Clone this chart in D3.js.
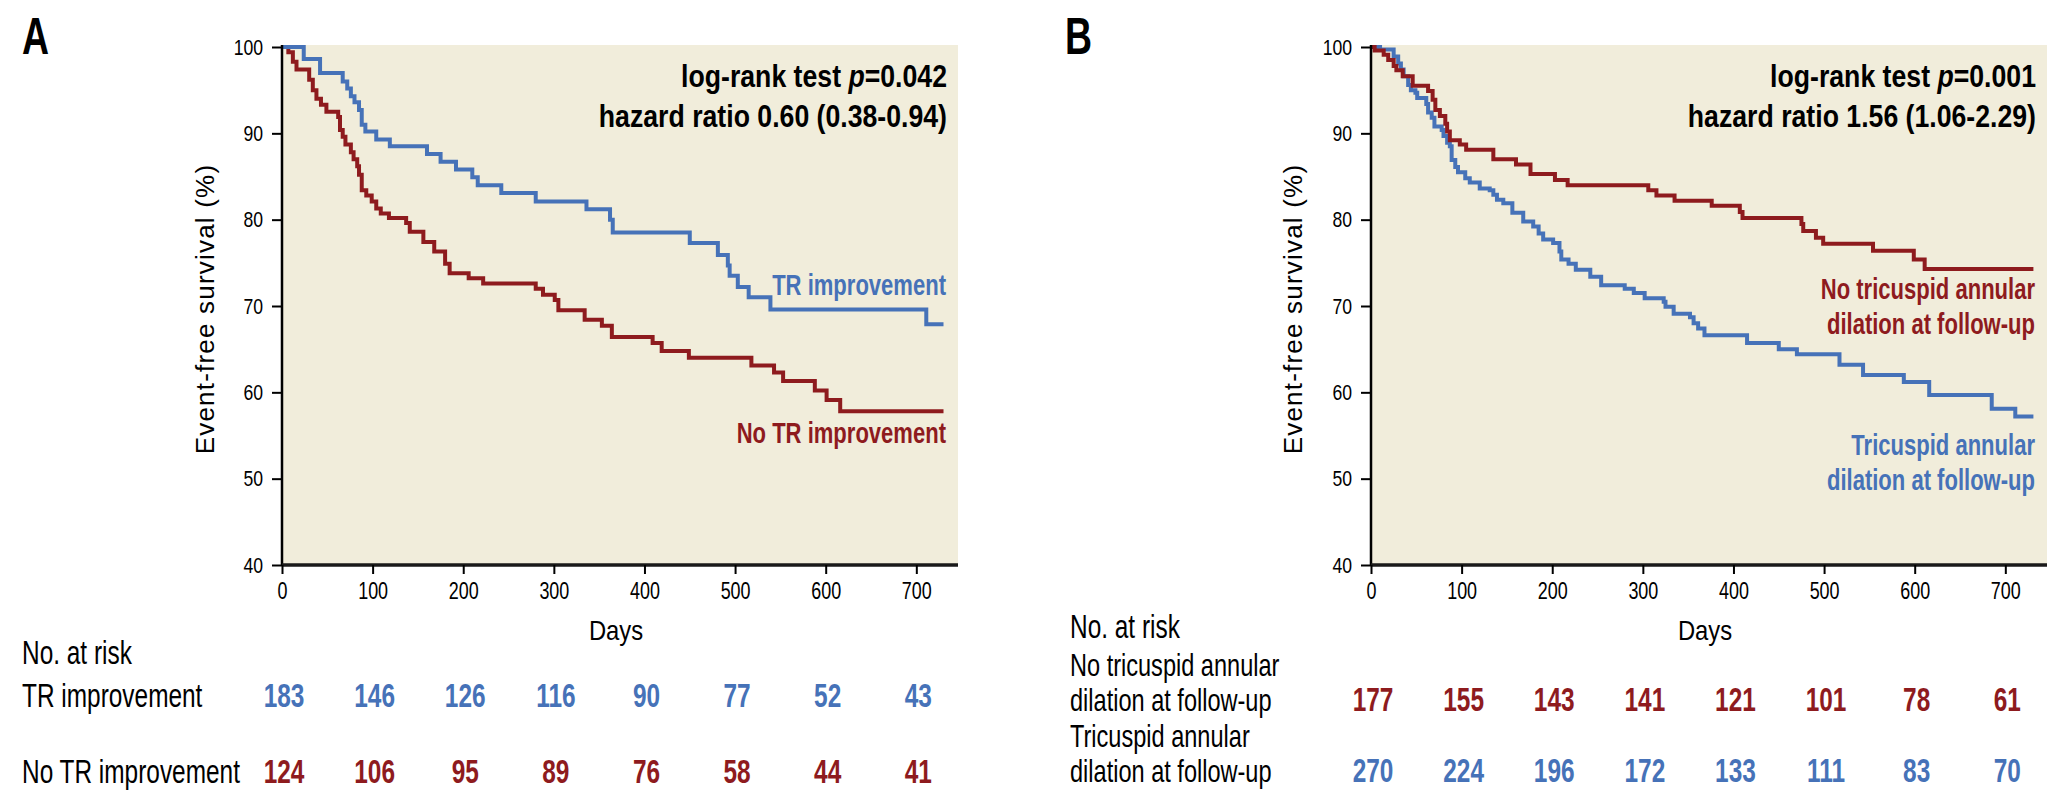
<!DOCTYPE html>
<html>
<head>
<meta charset="utf-8">
<script src="https://cdn.jsdelivr.net/npm/d3@7/dist/d3.min.js"></script>
<style>
  html, body { margin: 0; padding: 0; background: #ffffff; }
  svg { display: block; }
  text { font-family: 'Liberation Sans', Arial, Helvetica, sans-serif; }
</style>
</head>
<body>
<svg id="chart" width="2067" height="803"></svg>
<script>
// ---------- data ----------
const xTicks = [0, 100, 200, 300, 400, 500, 600, 700];
const yTicks = [40, 50, 60, 70, 80, 90, 100];

// Panel A: TR improvement (blue)
const aTRDays = [0,24,42,67,72,76,80,85,88,92,104,119,160,175,192,210,216,242,280,336,362,365,450,481,492,494,503,515,539,711,730];
const aTRSurv = [100,98.6,97.0,96.0,95.2,94.3,93.6,92.7,91.0,90.2,89.3,88.5,87.6,86.7,85.8,84.9,84.0,83.1,82.1,81.2,80.0,78.5,77.3,75.9,74.7,73.5,72.2,71.0,69.6,67.9,67.9];
// Panel A: No TR improvement (red)
const aNoTRDays = [0,7,12,16,30,34,38,43,49,62,64,67,70,76,79,83,85,88,93,99,104,109,118,137,141,156,168,180,185,206,222,280,288,301,305,334,353,364,409,419,449,518,543,553,588,601,616,730];
const aNoTRSurv = [100,99.4,98.3,97.4,96.2,95.0,94.0,93.3,92.5,91.9,90.4,89.6,88.7,87.8,87.0,86.2,85.2,83.4,82.8,82.1,81.3,80.7,80.2,79.6,78.6,77.4,76.3,74.9,73.8,73.2,72.6,72.0,71.3,70.7,69.5,68.4,67.7,66.4,65.7,64.8,64.0,63.1,62.3,61.3,60.2,59.1,57.8,57.8];

// Panel B: No tricuspid annular dilation (red)
const bNoDilDays = [0,4,14,19,25,28,35,46,63,68,71,76,82,84,87,98,105,135,160,176,203,217,306,315,335,376,407,410,475,477,491,499,554,599,611,731];
const bNoDilSurv = [100,99.6,99.1,98.5,97.8,97.3,96.6,95.5,94.9,93.9,92.7,92.0,91.1,90.2,89.2,88.7,88.1,87.0,86.4,85.3,84.6,84.0,83.4,82.8,82.2,81.6,80.9,80.2,79.5,78.7,77.9,77.2,76.4,75.4,74.3,74.3];
// Panel B: Tricuspid annular dilation (blue)
const bDilDays = [0,10,25,30,33,36,41,44,49,51,61,63,67,70,78,80,84,87,89,93,96,104,109,120,131,135,139,146,156,168,179,185,190,201,208,210,218,226,242,254,280,290,302,323,325,334,352,356,361,368,415,450,470,517,543,588,616,685,711,731];
const bDilSurv = [100,99.7,98.9,98.1,97.4,96.6,95.6,95.0,94.7,94.1,93.4,92.4,91.8,90.8,90.4,89.7,88.9,88.5,86.9,86.1,85.5,84.8,84.3,83.6,83.4,82.9,82.3,81.9,80.8,79.8,79.2,78.4,77.7,77.3,76.3,75.4,74.9,74.2,73.4,72.4,72.0,71.5,70.9,70.5,69.9,69.1,68.7,68.0,67.4,66.6,65.7,65.0,64.4,63.2,62.0,61.2,59.7,58.1,57.2,57.2];

// Numbers at risk
const aRiskTR = [183, 146, 126, 116, 90, 77, 52, 43];
const aRiskNoTR = [124, 106, 95, 89, 76, 58, 44, 41];
const bRiskNoDil = [177, 155, 143, 141, 121, 101, 78, 61];
const bRiskDil = [270, 224, 196, 172, 133, 111, 83, 70];

// ---------- style ----------
const BLUE = '#4672b8';
const RED = '#8e1b1e';
const BG = '#f1eddb';
const COND = 0.75;   // proportion used to imitate a tall condensed gothic face

const svg = d3.select('#chart');

function zip(days, surv) { return days.map((d, i) => ({ t: d, s: surv[i] })); }

// condensed-looking text: a smaller font stretched vertically (same look as a horizontal squeeze).
function ctext(parent, x, y, opts) {
  const k = opts.k || COND;
  const size = (opts.size || 30) * k;
  const g = parent.append('g').attr('transform', `translate(${x},${y}) scale(1,${1 / k})`);
  const t = g.append('text')
    .attr('x', 0).attr('y', 0)
    .attr('text-anchor', opts.anchor || 'start')
    .attr('font-size', size)
    .attr('font-weight', opts.weight || 'normal')
    .attr('fill', opts.color || '#000');
  if (opts.text !== undefined) t.text(opts.text);
  return t;
}

function panel(cfg) {
  const x = d3.scaleLinear().domain([0, 746]).range([cfg.left, cfg.left + 676]);
  const y = d3.scaleLinear().domain([40, 100]).range([565, 47]);
  const g = svg.append('g');

  // background
  g.append('rect')
    .attr('x', x(0)).attr('y', y(100) - 2)
    .attr('width', x(746) - x(0)).attr('height', y(40) - y(100) + 2)
    .attr('fill', BG);

  // curves
  const line = d3.line().x(d => x(d.t)).y(d => y(d.s)).curve(d3.curveStepAfter);
  cfg.series.forEach(s => {
    g.append('path')
      .attr('d', line(zip(s.days, s.surv)))
      .attr('fill', 'none')
      .attr('stroke', s.color)
      .attr('stroke-width', 4)
      .attr('stroke-linejoin', 'miter');
  });

  // y axis
  const yk = 0.8;
  const yAxis = d3.axisLeft(y).tickValues(yTicks).tickSize(10).tickPadding(8).tickFormat(d3.format('d'));
  const ya = g.append('g').attr('transform', `translate(${x(0)},0)`).call(yAxis);
  ya.select('.domain').attr('d', `M0,${y(100) - 2}V${y(40)}`).attr('stroke', '#000').attr('stroke-width', 2.5);
  ya.selectAll('.tick line').attr('stroke', '#000').attr('stroke-width', 2);
  ya.selectAll('.tick text')
    .attr('font-family', "'Liberation Sans', Arial, sans-serif")
    .attr('font-size', 22 * yk).attr('fill', '#000')
    .attr('x', -19).attr('transform', `scale(1,${1 / yk})`);

  // x axis
  const xk = 0.78;
  const xAxis = d3.axisBottom(x).tickValues(xTicks).tickSize(9).tickPadding(9).tickFormat(d3.format('d'));
  const xa = g.append('g').attr('transform', `translate(0,${y(40)})`).call(xAxis);
  xa.select('.domain').attr('d', `M${x(0)},0H${x(746)}`).attr('stroke', '#1a1a1a').attr('stroke-width', 3.6);
  xa.selectAll('.tick line').attr('stroke', '#000').attr('stroke-width', 2);
  xa.selectAll('.tick text')
    .attr('font-family', "'Liberation Sans', Arial, sans-serif")
    .attr('font-size', 23 * xk).attr('fill', '#000')
    .attr('y', 18 * xk).attr('transform', `scale(1,${1 / xk})`);

  // y title (regular sans, not condensed)
  g.append('text')
    .attr('transform', `translate(${cfg.yTitleX},${(y(100) + y(40)) / 2 + 3}) rotate(-90)`)
    .attr('text-anchor', 'middle').attr('font-size', 26).attr('letter-spacing', 1.2)
    .attr('fill', '#000').text('Event-free survival (%)');

  // x title
  ctext(g, (x(0) + x(746)) / 2 - 4, 640, { anchor: 'middle', size: 28, k: 0.85, text: 'Days' });

  // panel letter
  ctext(g, cfg.letterX, 54, { size: 52, weight: 'bold', k: 0.72, text: cfg.letter });

  // stats annotation
  const right = x(746) - 11;
  const t1 = ctext(g, right, 87, { anchor: 'end', size: 31, weight: 'bold', k: 0.86 });
  t1.append('tspan').text('log-rank test ');
  t1.append('tspan').attr('font-style', 'italic').text('p');
  t1.append('tspan').text('=' + cfg.p);
  ctext(g, right, 127, { anchor: 'end', size: 31, weight: 'bold', k: 0.86, text: cfg.hr });

  // curve labels
  cfg.labels.forEach(l => {
    l.lines.forEach((txt, i) => {
      ctext(g, x(746) - 12, l.y + i * 35, { anchor: 'end', size: 29, weight: 'bold', k: 0.76, color: l.color, text: txt });
    });
  });

  // risk table
  ctext(g, cfg.tableX, cfg.riskHeadY, { size: 33, k: 0.74, text: 'No. at risk' });
  cfg.rows.forEach(r => {
    const n = r.label.length;
    const lab = n > 1 ? 31 : 33;
    const lk = n > 1 ? 0.76 : 0.74;
    r.label.forEach((txt, i) => {
      ctext(g, cfg.tableX, r.y - (n - 1 - i) * 35, { size: lab, k: lk, text: txt });
    });
    r.values.forEach((v, i) => {
      ctext(g, x(xTicks[i]) + 2, r.y, { anchor: 'middle', size: 33, weight: 'bold', k: 0.74, color: r.color, text: v });
    });
  });
}

panel({
  left: 282, letter: 'A', letterX: 22, yTitleX: 214,
  p: '0.042', hr: 'hazard ratio 0.60 (0.38-0.94)',
  series: [
    { days: aNoTRDays, surv: aNoTRSurv, color: RED },
    { days: aTRDays, surv: aTRSurv, color: BLUE }
  ],
  labels: [
    { lines: ['TR improvement'], y: 295, color: BLUE },
    { lines: ['No TR improvement'], y: 443, color: RED }
  ],
  tableX: 22, riskHeadY: 664,
  rows: [
    { label: ['TR improvement'], y: 707, values: aRiskTR, color: BLUE },
    { label: ['No TR improvement'], y: 783, values: aRiskNoTR, color: RED }
  ]
});

panel({
  left: 1371, letter: 'B', letterX: 1065, yTitleX: 1302,
  p: '0.001', hr: 'hazard ratio 1.56 (1.06-2.29)',
  series: [
    { days: bDilDays, surv: bDilSurv, color: BLUE },
    { days: bNoDilDays, surv: bNoDilSurv, color: RED }
  ],
  labels: [
    { lines: ['No tricuspid annular', 'dilation at follow-up'], y: 299, color: RED },
    { lines: ['Tricuspid annular', 'dilation at follow-up'], y: 455, color: BLUE }
  ],
  tableX: 1070, riskHeadY: 638,
  rows: [
    { label: ['No tricuspid annular', 'dilation at follow-up'], y: 711, values: bRiskNoDil, color: RED },
    { label: ['Tricuspid annular', 'dilation at follow-up'], y: 782, values: bRiskDil, color: BLUE }
  ]
});
</script>
</body>
</html>
